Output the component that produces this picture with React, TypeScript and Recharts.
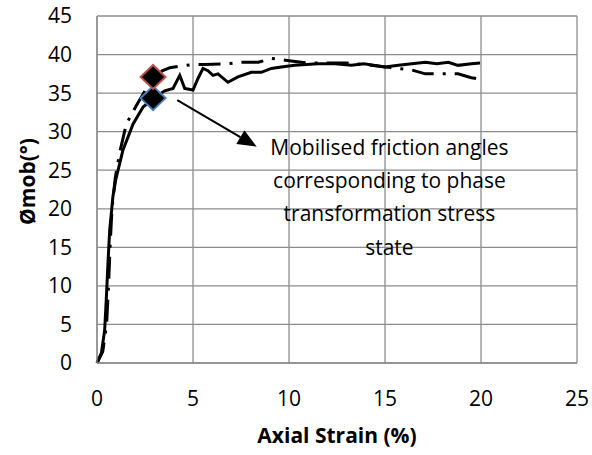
import { ComposedChart, Line, Scatter, XAxis, YAxis, CartesianGrid, ReferenceLine, ReferenceDot } from 'recharts'

// solid curve
const strainSolid = [0, 0.23, 0.4, 0.49, 0.57, 0.66, 0.83, 0.97, 1.35, 1.88, 2.4, 2.92, 3.53, 3.96, 4.31, 4.57, 5.0, 5.26, 5.52, 5.78, 6.04, 6.3, 6.82, 7.34, 8.04, 8.56, 9.08, 9.6, 10.3, 11.5, 12.4, 13.25, 13.9, 15.0, 15.7, 16.4, 17.1, 17.7, 18.3, 18.8, 19.5, 19.95]
const phiSolid = [0, 1.3, 4.3, 8.6, 12.9, 17.2, 21.6, 23.7, 27.6, 31.0, 33.2, 34.3, 35.3, 35.6, 37.3, 35.6, 35.4, 36.9, 38.2, 37.9, 37.3, 37.5, 36.4, 37.1, 37.7, 37.7, 38.2, 38.4, 38.6, 38.8, 38.8, 38.6, 38.8, 38.4, 38.6, 38.8, 39.0, 38.8, 39.0, 38.6, 38.8, 38.9]

// dash-dot curve
const strainDashDot = [0, 0.3, 0.5, 0.6, 0.68, 0.78, 0.95, 1.2, 1.53, 2.05, 2.5, 2.92, 3.4, 3.8, 4.31, 5.0, 5.6, 6.74, 7.5, 8.4, 9.1, 10, 11, 12, 13, 14, 15, 16.4, 17.1, 18.2, 18.8, 19.5, 20]
const phiDashDot = [0, 1.5, 5, 10, 15, 20, 24, 27.5, 31.0, 33.4, 35.3, 36.9, 37.9, 38.3, 38.5, 38.7, 38.7, 38.8, 39.0, 39.0, 39.5, 39.2, 38.9, 38.9, 38.9, 38.7, 38.4, 38.0, 37.5, 37.5, 37.5, 37.0, 36.8]

// phase transformation points
const ptStrain = [2.92, 2.92]
const ptPhi = [34.35, 37.1]
const ptColors = ['#4a7ebb', '#c0504d']

const xTicks = [0, 5, 10, 15, 20, 25]
const yTicks = [0, 5, 10, 15, 20, 25, 30, 35, 40, 45]

const noteLines = ['Mobilised friction angles', 'corresponding to phase', 'transformation stress', 'state']

const solidData = strainSolid.map((x, i) => ({ x, y: phiSolid[i] }))
const dashDotData = strainDashDot.map((x, i) => ({ x, y: phiDashDot[i] }))

const gridColor = '#8c8c8c'
const font = '"Open Sans", sans-serif'

const Diamond = (color: string) => (props: any) => {
    const { cx, cy } = props
    return (
        <polygon
            points={`${cx},${cy - 12} ${cx + 12.5},${cy} ${cx},${cy + 12} ${cx - 12.5},${cy}`}
            fill="#000"
            stroke={color}
            strokeWidth={2}
        />
    )
}

const Arrow = (props: any) => {
    const { x1, y1, x2, y2 } = props
    const dx = x2 - x1
    const dy = y2 - y1
    const len = Math.hypot(dx, dy)
    const ux = dx / len
    const uy = dy / len
    const bx = x2 - ux * 19
    const by = y2 - uy * 19
    return (
        <g>
            <line x1={x1} y1={y1} x2={bx} y2={by} stroke="#000" strokeWidth={2} />
            <polygon points={`${x2},${y2} ${bx - uy * 8},${by + ux * 8} ${bx + uy * 8},${by - ux * 8}`} fill="#000" />
        </g>
    )
}

const Note = (props: any) => {
    const { cx, cy } = props
    return (
        <text x={cx} y={cy} textAnchor="middle" fontSize={21} fill="#000" fontFamily={font}>
            {noteLines.map((t, i) => (
                <tspan key={t} x={cx} dy={i === 0 ? 0 : 33.3}>{t}</tspan>
            ))}
        </text>
    )
}

const YTitle = (props: any) => {
    const { viewBox } = props
    const x = 27
    const y = viewBox.y + viewBox.height / 2 - 8
    return (
        <text x={x} y={y} transform={`rotate(-90 ${x} ${y})`} textAnchor="middle" dominantBaseline="central"
            fontSize={21} fontWeight="bold" fill="#000" fontFamily={font}>
            Ømob(°)
        </text>
    )
}

const App = () => {
    return (
        <div style={{ width: 592, height: 455, fontFamily: font, background: '#fff' }}>
            <style>{'body{margin:0}'}</style>
            <ComposedChart width={592} height={455} margin={{ top: 16, right: 15, left: 0, bottom: 0 }}>
                <CartesianGrid stroke={gridColor} strokeWidth={1.3} />
                <XAxis
                    type="number"
                    dataKey="x"
                    domain={[0, 25]}
                    ticks={xTicks}
                    height={92}
                    tickLine={false}
                    tickSize={0}
                    tickMargin={28}
                    axisLine={{ stroke: gridColor, strokeWidth: 1.3 }}
                    tick={{ fill: '#000', fontSize: 21 }}
                    label={{ value: 'Axial Strain (%)', position: 'insideBottom', offset: 12, fill: '#000', fontSize: 21, fontWeight: 'bold' }}
                />
                <YAxis
                    type="number"
                    dataKey="y"
                    domain={[0, 45]}
                    ticks={yTicks}
                    width={97}
                    tickLine={false}
                    tickSize={0}
                    tickMargin={25}
                    axisLine={{ stroke: gridColor, strokeWidth: 1.3 }}
                    tick={{ fill: '#000', fontSize: 21 }}
                    label={<YTitle />}
                />
                <Line data={solidData} dataKey="y" type="linear" stroke="#000" strokeWidth={3} dot={false} isAnimationActive={false} />
                <Line data={dashDotData} dataKey="y" type="linear" stroke="#000" strokeWidth={3} strokeDasharray="22 9 3 9" dot={false} isAnimationActive={false} />
                {ptStrain.map((x, i) => (
                    <Scatter key={i} data={[{ x, y: ptPhi[i] }]} shape={Diamond(ptColors[i])} isAnimationActive={false} />
                ))}
                <ReferenceLine segment={[{ x: 4.18, y: 34.1 }, { x: 8.32, y: 28.05 }]} shape={Arrow} />
                <ReferenceDot x={15.23} y={27} r={0} shape={Note} />
            </ComposedChart>
        </div>
    )
}

export default App
